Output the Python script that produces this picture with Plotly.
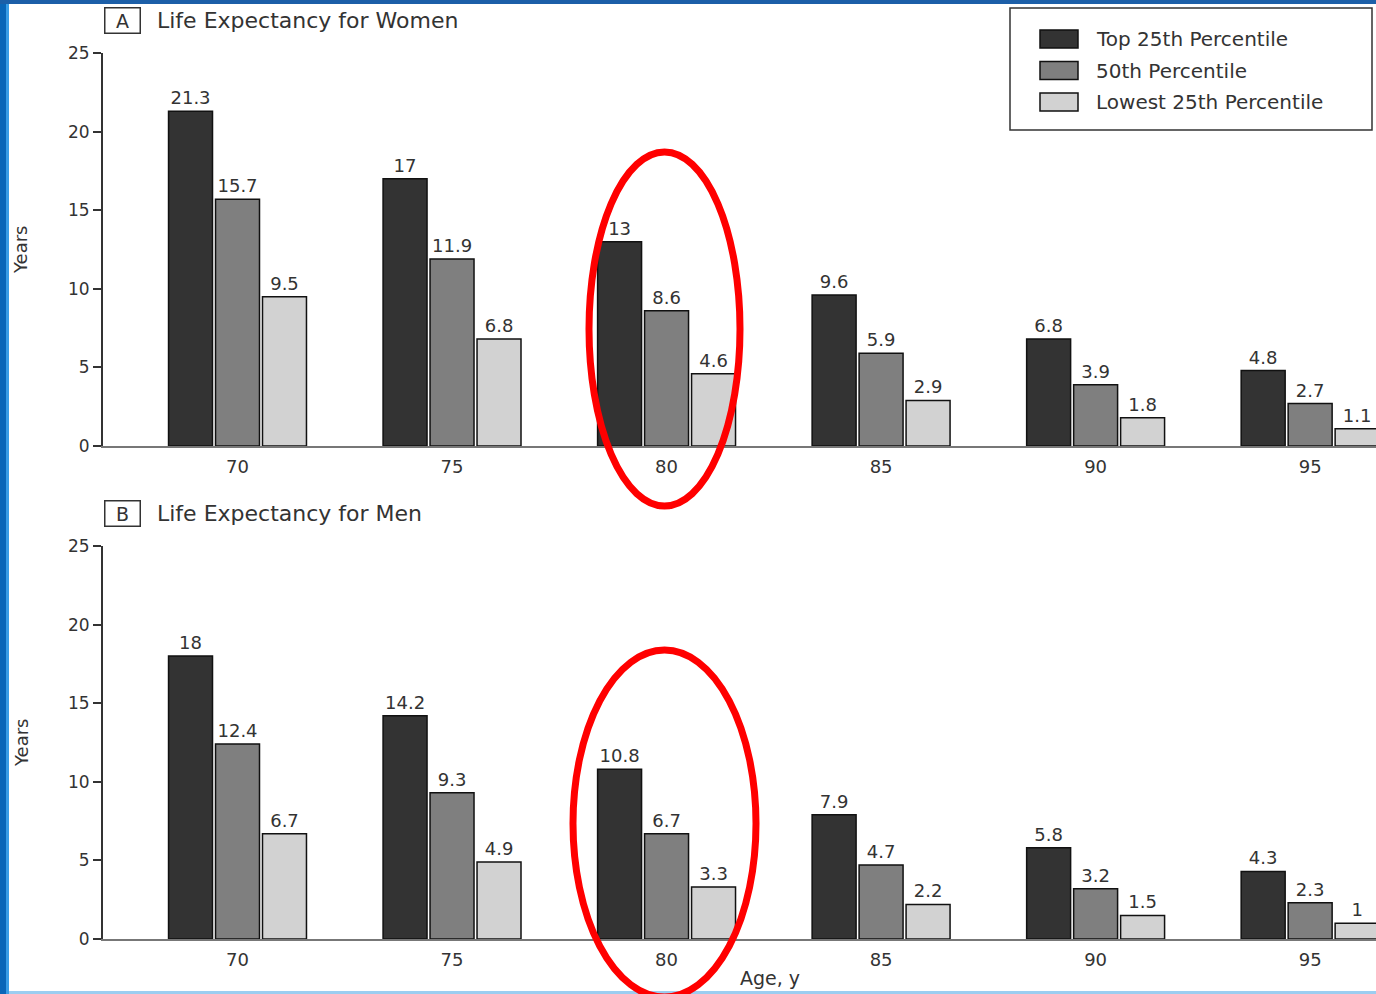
import plotly.graph_objects as go

ages = ["70", "75", "80", "85", "90", "95"]
series_names = ["Top 25th Percentile", "50th Percentile", "Lowest 25th Percentile"]
series_colors = ["#333333", "#7f7f7f", "#d2d2d2"]

women_top = [21.3, 17, 13, 9.6, 6.8, 4.8]
women_mid = [15.7, 11.9, 8.6, 5.9, 3.9, 2.7]
women_low = [9.5, 6.8, 4.6, 2.9, 1.8, 1.1]

men_top = [18, 14.2, 10.8, 7.9, 5.8, 4.3]
men_mid = [12.4, 9.3, 6.7, 4.7, 3.2, 2.3]
men_low = [6.7, 4.9, 3.3, 2.2, 1.5, 1]

y_ticks = [0, 5, 10, 15, 20, 25]

W, H = 1376, 994
FONT = "DejaVu Sans"
TXT = "#333333"


def px(x):
    return x / W


def py(y):
    return 1 - y / H


fig = go.Figure()

for vals_set, xa, ya in [
    ([women_top, women_mid, women_low], "x", "y"),
    ([men_top, men_mid, men_low], "x2", "y2"),
]:
    for i, vals in enumerate(vals_set):
        fig.add_trace(go.Bar(
            x=ages, y=vals, name=series_names[i],
            xaxis=xa, yaxis=ya,
            marker=dict(color=series_colors[i], line=dict(color="#111111", width=1.5)),
            text=[f"{v:g}" for v in vals], textposition="outside",
            textfont=dict(family=FONT, size=18, color=TXT),
            cliponaxis=False, showlegend=False,
        ))

xdom = [px(103), 1.0]
xr = [-0.627, 5.307]
common_x = dict(range=xr, showline=True, linecolor="#777777", linewidth=2,
                ticks="outside", ticklen=3, tickcolor="rgba(0,0,0,0)",
                tickfont=dict(family=FONT, size=18, color=TXT),
                showgrid=False, zeroline=False, fixedrange=True)
common_y = dict(range=[0, 25], tickvals=y_ticks, showline=True, linecolor="#333333",
                linewidth=2, ticks="outside", ticklen=8, tickcolor="#333333", tickwidth=1.5,
                tickfont=dict(family=FONT, size=17, color=TXT),
                showgrid=False, zeroline=False, fixedrange=True)

fig.update_layout(
    width=W, height=H, margin=dict(l=0, r=0, t=0, b=0, autoexpand=False),
    paper_bgcolor="white", plot_bgcolor="white",
    barmode="group", bargap=0.343, bargroupgap=0.064,
    xaxis=dict(domain=xdom, anchor="y", **common_x),
    yaxis=dict(domain=[py(446), py(53)], anchor="x", **common_y),
    xaxis2=dict(domain=xdom, anchor="y2", **common_x),
    yaxis2=dict(domain=[py(939), py(546)], anchor="x2", **common_y),
    showlegend=False,
)

annotations = []
for label, title, yc in [("A", "Life Expectancy for Women", 20), ("B", "Life Expectancy for Men", 513)]:
    annotations.append(dict(x=px(122), y=py(yc), xref="paper", yref="paper", text=label,
                            showarrow=False, font=dict(family=FONT, size=19, color=TXT),
                            bordercolor="#333333", borderwidth=1.5, width=32, height=22,
                            xanchor="center", yanchor="middle"))
    annotations.append(dict(x=px(155), y=py(yc), xref="paper", yref="paper", text=title,
                            showarrow=False, font=dict(family=FONT, size=22, color=TXT),
                            xanchor="left", yanchor="middle"))
for yc in [250, 743]:
    annotations.append(dict(x=px(21), y=py(yc), xref="paper", yref="paper", text="Years",
                            textangle=-90, showarrow=False,
                            font=dict(family=FONT, size=18, color=TXT),
                            xanchor="center", yanchor="middle"))
annotations.append(dict(x=px(770), y=py(978), xref="paper", yref="paper", text="Age, y",
                        showarrow=False, font=dict(family=FONT, size=19, color=TXT),
                        xanchor="center", yanchor="middle"))

shapes = [
    # slide frame
    dict(type="rect", xref="paper", yref="paper", x0=0, x1=px(6), y0=0, y1=1,
         fillcolor="#0a66b8", line=dict(width=0), layer="above"),
    dict(type="rect", xref="paper", yref="paper", x0=px(6), x1=px(9), y0=0, y1=1,
         fillcolor="#3a9de6", line=dict(width=0), layer="above"),
    dict(type="rect", xref="paper", yref="paper", x0=0, x1=1, y0=py(4), y1=1,
         fillcolor="#1c5fa8", line=dict(width=0), layer="above"),
    dict(type="rect", xref="paper", yref="paper", x0=px(9), x1=1, y0=0, y1=py(991),
         fillcolor="#9ccdf0", line=dict(width=0), layer="above"),
    # legend box
    dict(type="rect", xref="paper", yref="paper", x0=px(1010), x1=px(1372),
         y0=py(130), y1=py(8), fillcolor="white",
         line=dict(color="#333333", width=1.5), layer="above"),
]

# legend entries (swatch + label per series)
for i, (name, color) in enumerate(zip(series_names, series_colors)):
    yc = 39 + i * 31.5
    shapes.append(dict(type="rect", xref="paper", yref="paper",
                       x0=px(1040), x1=px(1078), y0=py(yc + 9), y1=py(yc - 9),
                       fillcolor=color, line=dict(color="#111111", width=1.5), layer="above"))
    annotations.append(dict(x=px(1094), y=py(yc), xref="paper", yref="paper", text=name,
                            showarrow=False, font=dict(family=FONT, size=20, color=TXT),
                            xanchor="left", yanchor="middle"))

shapes += [
    # red highlight ellipses
    dict(type="circle", xref="paper", yref="paper", x0=px(589), x1=px(740),
         y0=py(506), y1=py(152), line=dict(color="#ff0000", width=7), layer="above"),
    dict(type="circle", xref="paper", yref="paper", x0=px(573), x1=px(756),
         y0=py(997), y1=py(650), line=dict(color="#ff0000", width=7), layer="above"),
]
fig.update_layout(shapes=shapes, annotations=annotations)

fig.write_html(
    "out.html",
    config={"displayModeBar": False, "responsive": False},
    post_script=(
        "document.documentElement.style.margin='0';"
        "document.body.style.margin='0';document.body.style.padding='0';"
        "document.body.style.overflow='hidden';"
        "var g=document.getElementById('{plot_id}');"
        "g.style.position='fixed';g.style.left='0px';g.style.top='0px';"
    ),
)
